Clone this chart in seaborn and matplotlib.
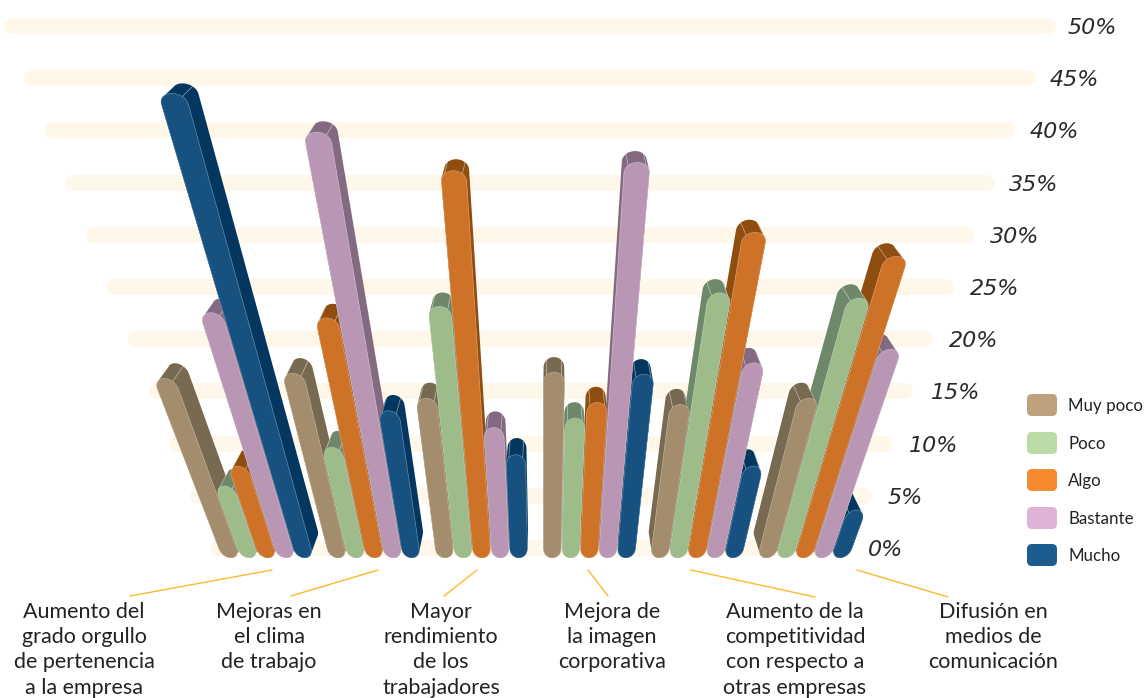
import numpy as np
import pandas as pd
import matplotlib
matplotlib.use("Agg")
import matplotlib.pyplot as plt
import seaborn as sns
from matplotlib.patches import Polygon, FancyBboxPatch
from matplotlib.transforms import Transform, IdentityTransform

categories = ["Aumento del\ngrado orgullo\nde pertenencia\na la empresa",
              "Mejoras en\nel clima\nde trabajo",
              "Mayor\nrendimiento\nde los\ntrabajadores",
              "Mejora de\nla imagen\ncorporativa",
              "Aumento de la\ncompetitividad\ncon respecto a\notras empresas",
              "Difusión en\nmedios de\ncomunicación"]
levels = ["Muy poco", "Poco", "Algo", "Bastante", "Mucho"]
muy_poco = [17.2, 17.7, 15.3, 17.8, 14.7, 15.3]
poco = [6.9, 10.6, 24.1, 13.4, 25.4, 24.9]
algo = [8.8, 23.0, 37.1, 14.9, 31.2, 28.9]
bastante = [23.5, 40.8, 12.5, 37.9, 18.7, 20.0]
mucho = [44.5, 14.1, 9.9, 17.6, 8.8, 4.6]
grid_values = [0, 5, 10, 15, 20, 25, 30, 35, 40, 45, 50]
tick_labels = ["0%", "5%", "10%", "15%", "20%", "25%", "30%", "35%", "40%", "45%", "50%"]

front_colors = ["#A38D6D", "#9EBB8A", "#CD7226", "#B997B4", "#175180"]
side_colors = ["#786A50", "#6E8869", "#8F4E10", "#836A80", "#03375F"]
legend_colors = ["#BDA27D", "#BBDCA6", "#F58A31", "#DEB3D5", "#1C5C8F"]

W, H = 1146, 698
CX, KX, Y0, SY = 544.0, 0.0125, 558.0, 10.44
CX_BACK = 552.0
X_ORIGIN, X_STEP = 268.0, 107.0
SANS = ["Lato", "DejaVu Sans"]

sns.set_theme(style="white")
plt.rcParams["font.family"] = SANS


def project(x, v, back=False):
    """Category position and value -> display pixels on the leaning chart plane."""
    x, v = np.asarray(x, float), np.asarray(v, float)
    base = X_ORIGIN + X_STEP * x
    px = CX + (base - CX) * (1 + KX * v)
    py = Y0 - SY * v
    if back:
        px = CX_BACK + (px - CX_BACK) * 0.972
        py = py - (18.5 - 0.19 * v)
    return np.column_stack([px, H - py])


class Leaning(Transform):
    input_dims = output_dims = 2
    is_affine = False
    has_inverse = False

    def transform_non_affine(self, values):
        values = np.asarray(values, float)
        return project(values[:, 0], values[:, 1])


def outline(xc, w, h, rt=1.0, rb=0.85):
    t1 = np.linspace(np.pi, 0, 25)
    t2 = np.linspace(0, -np.pi, 25)
    xs = np.r_[xc + w / 2 * np.cos(t1), xc + w / 2 * np.cos(t2)]
    vs = np.r_[h - rt + rt * np.sin(t1), rb + rb * np.sin(t2)]
    return xs, vs


def hull(pts):
    p = sorted(map(tuple, pts))
    def half(seq):
        out = []
        for q in seq:
            while len(out) > 1 and ((out[-1][0] - out[-2][0]) * (q[1] - out[-2][1])
                                    - (out[-1][1] - out[-2][1]) * (q[0] - out[-2][0])) <= 0:
                out.pop()
            out.append(q)
        return out[:-1]
    return np.array(half(p) + half(p[::-1]))


df = pd.DataFrame({"categoria": categories, "Muy poco": muy_poco, "Poco": poco,
                   "Algo": algo, "Bastante": bastante, "Mucho": mucho})
long_df = df.melt("categoria", var_name="nivel", value_name="valor")

fig = plt.figure(figsize=(W / 100, H / 100), dpi=100, facecolor="white")
ax = fig.add_axes([0, 0, 1, 1])
sns.barplot(data=long_df, x="categoria", y="valor", hue="nivel", order=categories,
            hue_order=levels, palette=front_colors, saturation=1, width=0.86, gap=0.05,
            legend=False, ax=ax)
ax.set_xlim(-0.5, 5.5)
ax.set_ylim(0, 50)
ax.set_axis_off()

# wall bands
for g in grid_values:
    yy = H - (548 - 10.44 * g)
    ax.plot([219 - 4.16 * g, 843 + 4.10 * g], [yy, yy], transform=IdentityTransform(),
            color="#FFF7E9", lw=11.5, solid_capstyle="round", zorder=0.5, clip_on=False)

# bars: farthest from the vanishing axis first
leaning = Leaning()
bars = []
for li, cont in enumerate(ax.containers):
    for rect in cont.patches:
        xc = rect.get_x() + rect.get_width() / 2
        bars.append((abs(X_ORIGIN + X_STEP * xc - CX_BACK), li, rect, xc))
bars.sort(key=lambda b: -b[0])

for rank, (_, li, rect, xc) in enumerate(bars):
    w, h = rect.get_width(), rect.get_height()
    z = 2 + rank
    xs, vs = outline(xc, w, h)
    front = project(xs, vs)
    back = project(xs, vs, back=True)
    ax.add_patch(Polygon(hull(np.vstack([front, back])), closed=True, fc=side_colors[li], ec="none",
                         transform=IdentityTransform(), zorder=z, clip_on=False))
    # cap ridges
    for a in (6, 18):
        ax.plot([front[a, 0], back[a, 0]], [front[a, 1], back[a, 1]], color="white", lw=0.5,
                alpha=0.55, transform=IdentityTransform(), zorder=z + 0.1, clip_on=False)
    rect.set_y(0.85)
    rect.set_height(h - 1.85)
    rect.set_transform(leaning)
    rect.set_clip_on(False)
    rect.set_linewidth(0)
    rect.set_zorder(z + 0.3)
    ax.add_patch(Polygon(front, closed=True, fc=front_colors[li], ec=(1, 1, 1, 0.35), lw=0.5,
                         transform=IdentityTransform(), zorder=z + 0.5, clip_on=False))

# overlay in picture pixels
pax = fig.add_axes([0, 0, 1, 1], zorder=5)
pax.set_xlim(0, W)
pax.set_ylim(H, 0)
pax.set_axis_off()
pax.patch.set_alpha(0)

tick_x = [868, 888, 909, 931, 949, 970, 990, 1009, 1030, 1050, 1068]
for g, lab, tx in zip(grid_values, tick_labels, tick_x):
    pax.text(tx, 550 - 10.44 * g, lab, ha="left", va="center", fontsize=16, style="italic",
             color="#2a2a2a", family=["DejaVu Sans"])

connectors = [((130, 596), (272, 570)), ((291, 596), (378, 570)), ((444, 596), (477, 570)),
              ((608, 596), (588, 570)), ((815, 597), (691, 570)), ((948, 597), (857, 570))]
for (x0, y0), (x1, y1) in connectors:
    pax.plot([x0, x1], [y0, y1], color="#FDB92E", lw=1.0)

label_x = [84, 269, 441, 612, 795, 993]
for cat, lx in zip(categories, label_x):
    pax.text(lx, 601.5, cat, ha="center", va="top", fontsize=15.5, color="#222222",
             linespacing=1.34)

legend_y = [405, 443, 480, 518, 555]
for lab, col, ly in zip(levels, legend_colors, legend_y):
    pax.add_patch(FancyBboxPatch((1030, ly - 8), 24, 16, boxstyle="round,pad=3,rounding_size=5",
                                 fc=col, ec="none"))
    pax.text(1068, ly + 1, lab, ha="left", va="center", fontsize=12.2, color="#222222")

fig.savefig("out.png", dpi=100, facecolor="white")
